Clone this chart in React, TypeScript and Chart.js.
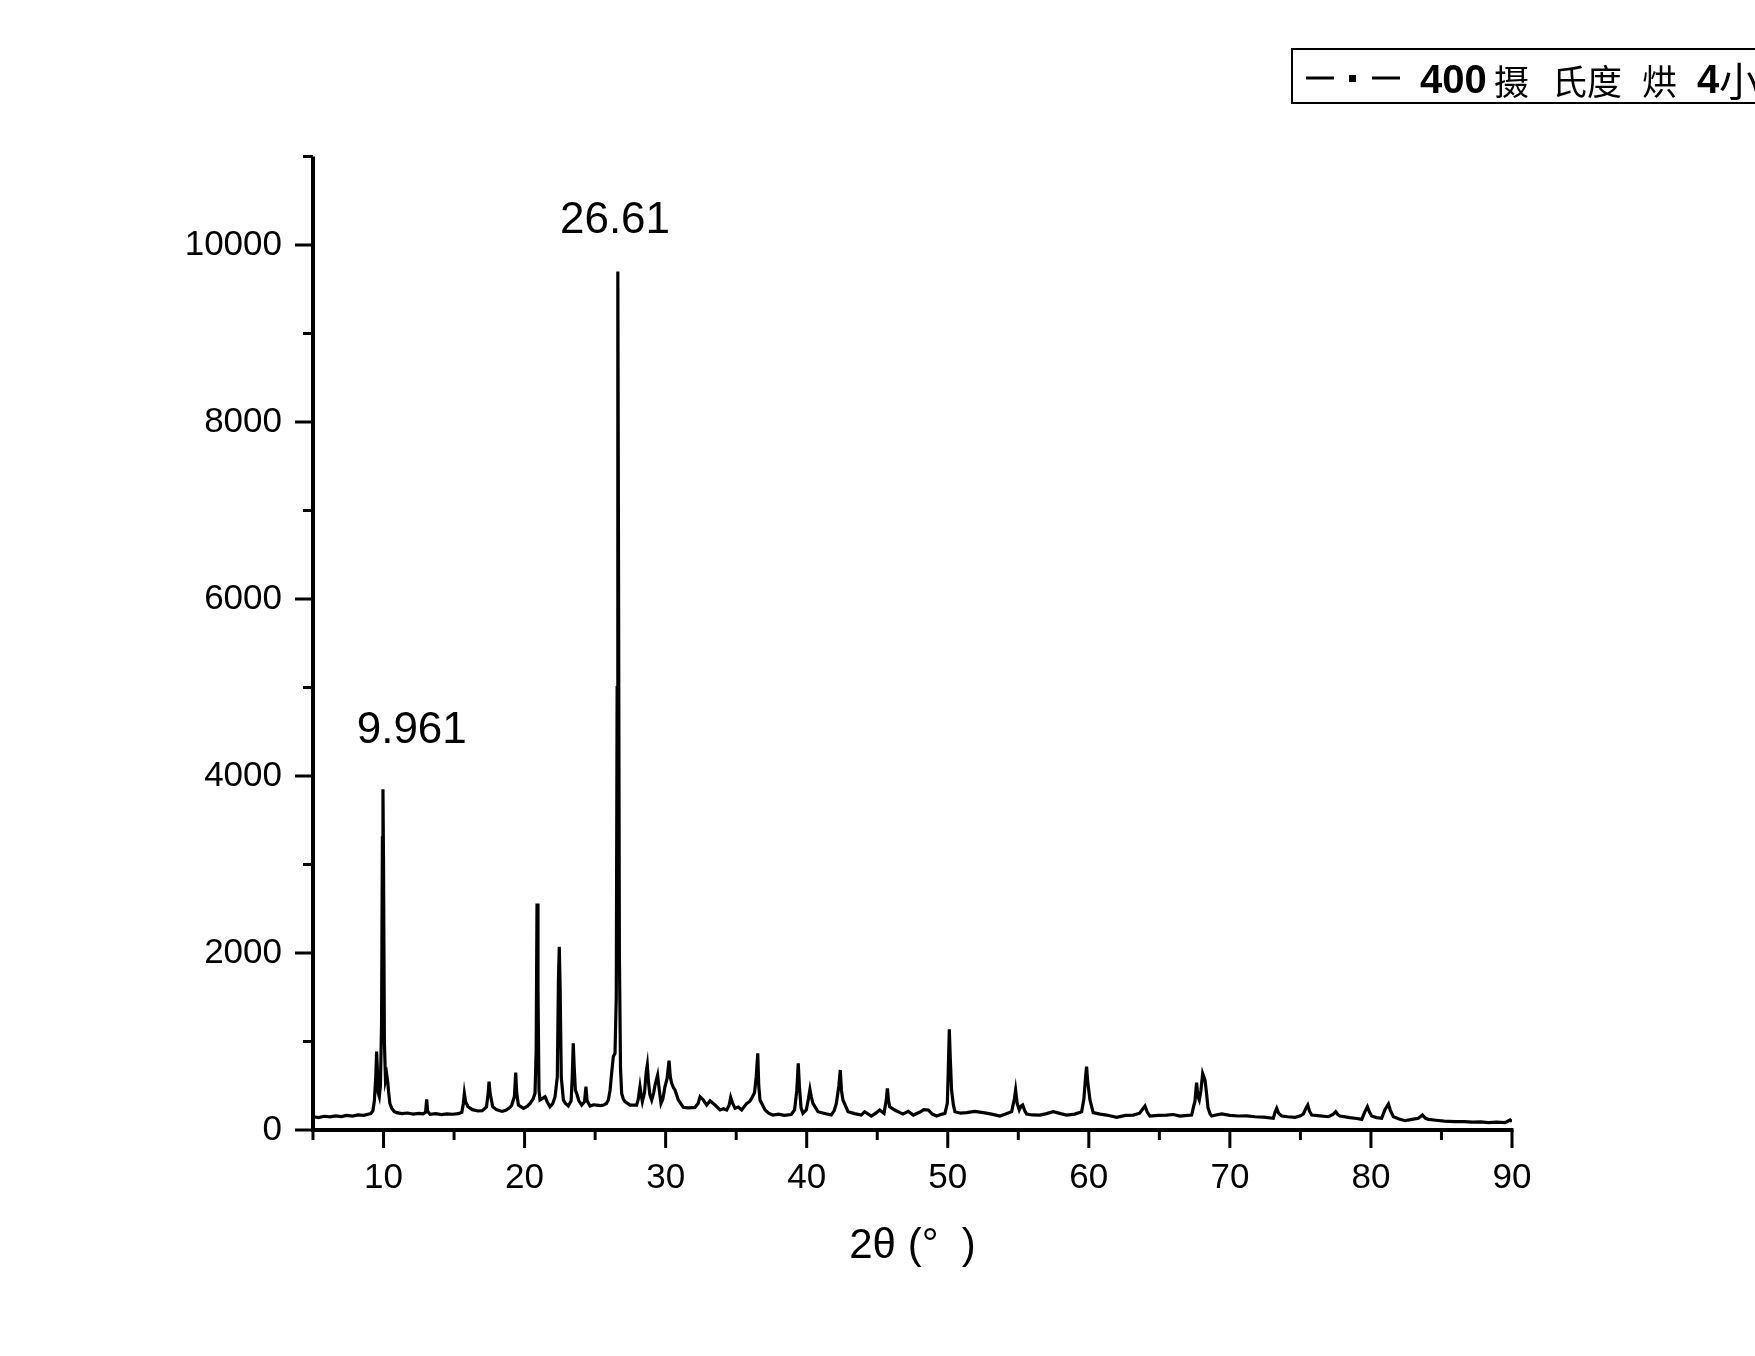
import React, { useEffect, useRef } from 'react';
import { Chart, registerables } from 'chart.js';

Chart.register(...registerables);

// ---- data ----
const twoTheta = [
  5.0, 5.4, 5.8, 6.2, 6.6, 7.0, 7.4, 7.8, 8.2, 8.6, 8.9, 9.1, 9.25, 9.35, 9.45, 9.51, 9.56, 9.62, 9.70, 9.78,
  9.86, 9.92, 9.96, 10.00, 10.06, 10.14, 10.23, 10.30, 10.36, 10.45, 10.58, 10.75, 10.93, 11.3, 11.7, 12.1, 12.5, 12.8, 12.98, 13.06,
  13.13, 13.3, 13.7, 14.1, 14.5, 14.9, 15.3, 15.55, 15.66, 15.73, 15.82, 15.99, 16.3, 16.7, 17.0, 17.3, 17.42, 17.48, 17.55, 17.74,
  18.0, 18.4, 18.7, 19.0, 19.09, 19.28, 19.37, 19.44, 19.56, 19.92, 20.2, 20.39, 20.6, 20.74, 20.82, 20.88, 20.95, 21.02, 21.09, 21.3,
  21.45, 21.6, 21.8, 22.0, 22.16, 22.32, 22.40, 22.46, 22.52, 22.60, 22.75, 22.9, 23.1, 23.3, 23.38, 23.45, 23.52, 23.60, 23.69, 23.85,
  24.05, 24.25, 24.35, 24.43, 24.64, 24.9, 25.1, 25.4, 25.6, 25.8, 25.94, 26.06, 26.17, 26.29, 26.41, 26.50, 26.56, 26.61, 26.66, 26.72,
  26.80, 26.88, 27.0, 27.12, 27.47, 27.94, 28.05, 28.18, 28.26, 28.35, 28.5, 28.62, 28.70, 28.78, 28.88, 29.01, 29.15, 29.25, 29.43, 29.55,
  29.67, 29.80, 29.95, 30.10, 30.24, 30.33, 30.43, 30.55, 30.66, 30.90, 31.25, 31.6, 32.08, 32.3, 32.44, 32.67, 32.91, 33.15, 33.5, 33.86,
  34.1, 34.33, 34.5, 34.61, 34.75, 34.92, 35.15, 35.39, 35.75, 35.95, 36.10, 36.3, 36.42, 36.53, 36.60, 36.69, 37.05, 37.3, 37.6, 38.0,
  38.4, 38.9, 39.14, 39.3, 39.40, 39.48, 39.60, 39.73, 39.97, 40.12, 40.23, 40.32, 40.44, 40.8, 41.2, 41.74, 41.95, 42.10, 42.28, 42.38,
  42.46, 42.57, 42.93, 43.4, 43.87, 44.11, 44.58, 44.9, 45.17, 45.48, 45.65, 45.72, 45.80, 45.88, 46.24, 46.61, 46.83, 47.2, 47.56, 48.0,
  48.3, 48.62, 48.9, 49.21, 49.5, 49.8, 49.97, 50.04, 50.11, 50.18, 50.27, 50.40, 50.51, 50.9, 51.34, 51.9, 52.52, 53.1, 53.7, 54.1,
  54.53, 54.72, 54.81, 54.92, 55.07, 55.20, 55.31, 55.45, 55.59, 56.0, 56.53, 57.0, 57.48, 58.0, 58.42, 59.0, 59.49, 59.65, 59.78, 59.84,
  59.92, 60.08, 60.31, 60.8, 61.26, 61.97, 62.6, 63.15, 63.6, 63.98, 64.15, 64.33, 64.9, 65.51, 66.0, 66.46, 67.0, 67.29, 67.45, 67.52,
  67.64, 67.73, 67.83, 67.95, 68.07, 68.16, 68.24, 68.34, 68.45, 68.6, 68.71, 69.0, 69.42, 70.0, 70.6, 71.2, 71.78, 72.4, 73.08, 73.2,
  73.32, 73.45, 73.67, 74.1, 74.62, 75.0, 75.21, 75.4, 75.52, 75.65, 75.8, 76.4, 76.98, 77.3, 77.5, 77.65, 77.81, 78.5, 79.0, 79.35,
  79.55, 79.75, 79.9, 80.05, 80.4, 80.76, 81.0, 81.24, 81.38, 81.59, 82.0, 82.42, 82.9, 83.36, 83.65, 83.85, 84.07, 84.6, 85.2, 85.96,
  86.6, 87.2, 87.8, 88.32, 88.9, 89.51, 89.86, 90.0,
];

const intensity = [
  150, 140, 155, 148, 160, 152, 165, 158, 170, 165, 178, 185, 220, 330, 600, 885, 700, 420, 376, 500,
  1200, 3300, 3850, 3000, 1000, 560, 621, 540, 430, 300, 245, 210, 196, 185, 192, 180, 188, 182, 200, 347,
  210, 178, 185, 175, 182, 178, 185, 200, 300, 414, 320, 263, 230, 215, 219, 260, 420, 546, 420, 263,
  230, 210, 225, 260, 282, 380, 648, 420, 282, 245, 270, 301, 350, 414, 900, 2560, 1600, 450, 339, 360,
  376, 320, 263, 300, 376, 600, 1700, 2070, 1600, 600, 339, 300, 271, 330, 600, 979, 700, 450, 414, 330,
  282, 320, 489, 330, 271, 285, 282, 275, 282, 300, 339, 450, 640, 829, 866, 1500, 5000, 9700, 6300, 2000,
  700, 414, 350, 320, 282, 282, 340, 489, 400, 320, 420, 650, 734, 550, 400, 339, 420, 508, 621, 450,
  301, 350, 489, 580, 783, 600, 527, 480, 452, 339, 256, 250, 256, 300, 376, 339, 282, 331, 282, 226,
  240, 226, 280, 369, 300, 245, 260, 226, 301, 320, 358, 420, 600, 866, 500, 339, 226, 190, 169, 180,
  165, 175, 226, 450, 753, 500, 250, 188, 226, 350, 459, 380, 301, 207, 190, 169, 220, 301, 500, 678,
  450, 339, 207, 185, 169, 207, 158, 190, 226, 188, 350, 471, 330, 263, 226, 196, 181, 210, 169, 200,
  230, 226, 180, 158, 175, 188, 301, 700, 1138, 800, 452, 280, 207, 190, 196, 210, 196, 180, 158, 180,
  207, 350, 452, 300, 226, 270, 282, 220, 181, 170, 169, 185, 207, 185, 169, 180, 207, 350, 620, 715,
  550, 339, 196, 180, 169, 143, 165, 169, 190, 271, 200, 158, 165, 169, 175, 158, 165, 169, 280, 320,
  535, 380, 339, 450, 640, 600, 560, 420, 250, 180, 158, 170, 181, 165, 158, 160, 150, 145, 132, 200,
  245, 190, 158, 150, 143, 160, 181, 250, 282, 210, 169, 160, 150, 175, 207, 175, 158, 140, 130, 120,
  200, 263, 200, 158, 140, 132, 233, 294, 220, 150, 125, 105, 120, 132, 169, 135, 120, 110, 100, 94,
  95, 88, 92, 83, 90, 83, 113, 95,
];

const X_MIN = 5;
const X_MAX = 90;
const X_STEP = 5;
const X_LABEL_EVERY = 10;
const Y_MIN = 0;
const Y_MAX = 11000;
const Y_STEP = 1000;
const Y_LABEL_EVERY = 2000;

const peakLabels = ['9.961', '26.61'];
const peakLabelX = [12.0, 26.41];
const peakLabelY = [4373, 10136];

const xAxisTitle = '2θ (°  )';
const legendNumber = '400';
const legendParts = ['摄', '氏度', '烘'];
const legendHours = '4';
const legendUnit = '小时';

const FONT = "'Liberation Sans', Arial, Helvetica, sans-serif";
const CJK = "'Noto Sans CJK SC', 'Noto Sans CJK TC', sans-serif";

const decor = {
  id: 'decor',
  afterDraw(chart: any) {
    const { ctx, scales } = chart;
    const xs = scales.x;
    const ys = scales.y;
    const left = xs.getPixelForValue(X_MIN);
    const right = xs.getPixelForValue(X_MAX);
    const bottom = ys.getPixelForValue(Y_MIN);
    const top = ys.getPixelForValue(Y_MAX);
    ctx.save();
    ctx.strokeStyle = '#000';
    ctx.fillStyle = '#000';
    // axis lines
    ctx.lineWidth = 4;
    ctx.beginPath();
    ctx.moveTo(left, top);
    ctx.lineTo(left, bottom + 2);
    ctx.moveTo(left - 2, bottom);
    ctx.lineTo(right + 1.5, bottom);
    ctx.stroke();
    // ticks
    ctx.lineWidth = 3;
    ctx.beginPath();
    xs.ticks.forEach((t: any) => {
      const px = xs.getPixelForValue(t.value);
      const len = t.value % X_LABEL_EVERY === 0 ? 18 : 10;
      ctx.moveTo(px, bottom);
      ctx.lineTo(px, bottom + len);
    });
    ys.ticks.forEach((t: any) => {
      const py = ys.getPixelForValue(t.value);
      const len = t.value % Y_LABEL_EVERY === 0 ? 18 : 10;
      ctx.moveTo(left, py);
      ctx.lineTo(left - len, py);
    });
    ctx.stroke();

    // peak annotations
    ctx.font = `44px ${FONT}`;
    ctx.textAlign = 'center';
    ctx.textBaseline = 'alphabetic';
    peakLabels.forEach((lab, i) => {
      ctx.fillText(lab, xs.getPixelForValue(peakLabelX[i]), ys.getPixelForValue(peakLabelY[i]));
    });

    // x axis title
    ctx.font = `42px ${FONT}`;
    ctx.textBaseline = 'middle';
    ctx.fillText(xAxisTitle, (left + right) / 2, bottom + 116);

    // legend box (runs off the right edge, as in the reference)
    ctx.lineWidth = 2;
    ctx.strokeRect(1292, 49, 600, 54);
    ctx.lineWidth = 3;
    ctx.beginPath();
    ctx.moveTo(1306, 78);
    ctx.lineTo(1334, 78);
    ctx.moveTo(1372, 78);
    ctx.lineTo(1400, 78);
    ctx.stroke();
    ctx.fillRect(1349, 75, 7, 7);
    ctx.textAlign = 'left';
    ctx.textBaseline = 'alphabetic';
    ctx.font = `bold 40px ${FONT}`;
    ctx.fillText(legendNumber, 1420, 93);
    ctx.font = `35px ${CJK}`;
    ctx.fillText(legendParts[0], 1494, 95);
    ctx.fillText(legendParts[1], 1552, 95);
    ctx.fillText(legendParts[2], 1642, 95);
    ctx.font = `bold 40px ${FONT}`;
    ctx.fillText(legendHours, 1697, 93);
    ctx.font = `40px ${CJK}`;
    ctx.fillText(legendUnit, 1719, 96);
    ctx.restore();
  },
};

export default function App() {
  const ref = useRef<HTMLCanvasElement | null>(null);
  useEffect(() => {
    document.body.style.margin = '0';
    const canvas = ref.current;
    if (!canvas) return;
    const chart = new Chart(canvas, {
      type: 'line',
      data: {
        datasets: [
          {
            label: '400摄 氏度 烘 4小时',
            data: twoTheta.map((x, i) => ({ x, y: intensity[i] })),
            borderColor: '#000',
            backgroundColor: '#000',
            borderWidth: 3.2,
            pointRadius: 0,
            tension: 0,
            fill: false,
          },
        ],
      },
      options: {
        responsive: false,
        animation: false,
        devicePixelRatio: 1,
        layout: { padding: { top: 156.5, right: 243, bottom: 0, left: 0 } },
        plugins: { legend: { display: false }, tooltip: { enabled: false } },
        scales: {
          x: {
            type: 'linear',
            min: X_MIN,
            max: X_MAX,
            grid: { display: false, drawTicks: false },
            border: { display: false },
            ticks: {
              stepSize: X_STEP,
              autoSkip: false,
              maxRotation: 0,
              padding: 27,
              color: '#000',
              font: { family: FONT, size: 35 },
              callback: (v: any) => (Number(v) % X_LABEL_EVERY === 0 ? String(v) : ''),
            },
            afterFit: (s: any) => {
              s.height = 226;
            },
          },
          y: {
            type: 'linear',
            min: Y_MIN,
            max: Y_MAX,
            grid: { display: false, drawTicks: false },
            border: { display: false },
            ticks: {
              stepSize: Y_STEP,
              autoSkip: false,
              padding: 31,
              color: '#000',
              font: { family: FONT, size: 35 },
              callback: (v: any) => (Number(v) % Y_LABEL_EVERY === 0 ? String(v) : ''),
            },
            afterFit: (s: any) => {
              s.width = 313;
            },
          },
        },
      },
      plugins: [decor],
    });
    return () => chart.destroy();
  }, []);
  return (
    <div style={{ position: 'absolute', left: 0, top: 0, width: 1755, height: 1356, background: '#fff' }}>
      <canvas ref={ref} width={1755} height={1356} />
    </div>
  );
}
